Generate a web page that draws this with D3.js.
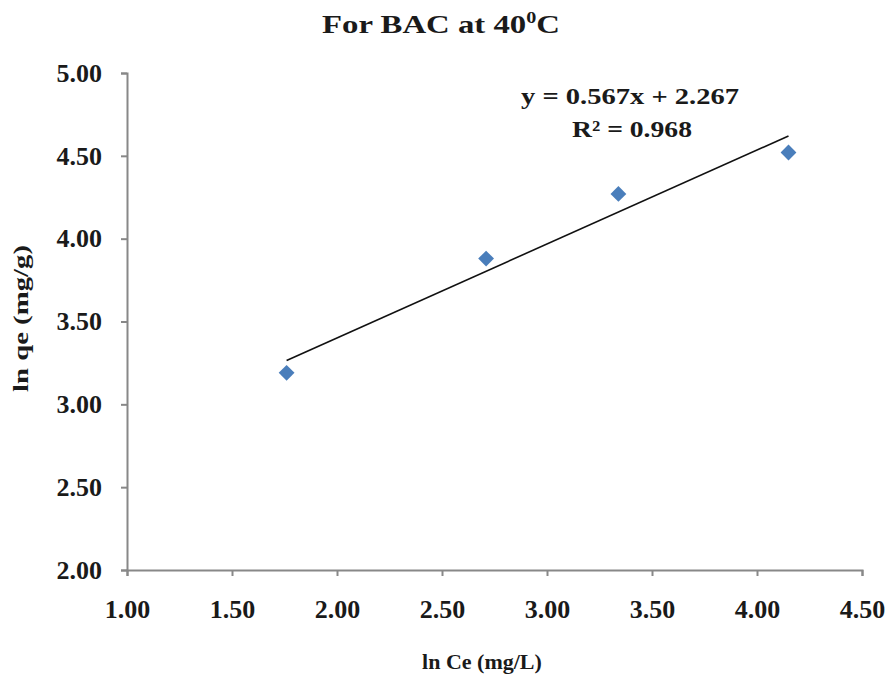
<!DOCTYPE html>
<meta charset="utf-8">
<html>
  <head>
    <title>For BAC at 40C</title>
    <style>
      body { margin: 0; background: #fff; }
      svg { display: block; }
      text { font-family: "Liberation Serif", "Times New Roman", serif; font-weight: bold; fill: #1a1a1a; }
      .axis path, .axis line { stroke: #888; stroke-width: 2px; }
      .axis text { font-size: 26px; }
      .trend { fill: none; stroke: #111; stroke-width: 1.6px; }
      .point { fill: #4a7ebb; }
    </style>
  </head>
  <body>
    <script src="https://cdn.jsdelivr.net/npm/d3@7"></script>
    <script>

      // ln Ce (x) and ln qe (y) points
      var lnCe = [1.76, 2.71, 3.34, 4.15];
      var lnQe = [3.19, 3.88, 4.27, 4.52];

      var xTicks = [1.00, 1.50, 2.00, 2.50, 3.00, 3.50, 4.00, 4.50];
      var yTicks = [2.00, 2.50, 3.00, 3.50, 4.00, 4.50, 5.00];

      // linear fit shown on the chart
      var slope = 0.567, intercept = 2.267;
      var eqLines = ["y = 0.567x + 2.267", "R\u00b2 = 0.968"];

      var width = 890, height = 680;
      var plotLeft = 127, plotRight = 862, plotTop = 73, plotBottom = 570;

      var x = d3.scaleLinear().domain([1, 4.5]).range([plotLeft, plotRight]);
      var y = d3.scaleLinear().domain([2, 5]).range([plotBottom, plotTop]);

      var svg = d3.select("body").append("svg")
          .attr("width", width)
          .attr("height", height);

      svg.append("g")
          .attr("class", "axis")
          .attr("transform", "translate(0," + plotBottom + ")")
          .call(d3.axisBottom(x).tickValues(xTicks).tickFormat(d3.format(".2f"))
            .tickSize(6).tickPadding(24));

      svg.append("g")
          .attr("class", "axis")
          .attr("transform", "translate(" + plotLeft + ",0)")
          .call(d3.axisLeft(y).tickValues(yTicks).tickFormat(d3.format(".2f"))
            .tickSize(6).tickPadding(19));

      svg.selectAll(".axis text").attr("fill", "#1a1a1a");

      // trend line across the data range
      var xr = d3.extent(lnCe);
      svg.append("path")
          .attr("class", "trend")
          .attr("d", d3.line()
            .x(function(d) { return x(d); })
            .y(function(d) { return y(slope * d + intercept); })(xr));

      svg.selectAll(".point")
          .data(lnCe)
        .enter().append("path")
          .attr("class", "point")
          .attr("d", d3.symbol().type(d3.symbolSquare).size(125))
          .attr("transform", function(d, i) {
            return "translate(" + x(d) + "," + y(lnQe[i]) + ") rotate(45)";
          });

      // equation label
      svg.append("text")
          .attr("x", 521).attr("y", 104)
          .attr("textLength", 218)
          .attr("lengthAdjust", "spacingAndGlyphs")
          .style("font-size", "23px")
          .text(eqLines[0]);
      svg.append("text")
          .attr("x", 572).attr("y", 137)
          .attr("textLength", 120)
          .attr("lengthAdjust", "spacingAndGlyphs")
          .style("font-size", "23px")
          .text(eqLines[1]);

      // title
      var title = svg.append("text")
          .attr("x", 322).attr("y", 33)
          .attr("textLength", 238)
          .attr("lengthAdjust", "spacingAndGlyphs")
          .style("font-size", "26px");
      title.append("tspan").text("For BAC at 40");
      title.append("tspan").attr("dy", -10).style("font-size", "16px").text("0");
      title.append("tspan").attr("dy", 10).text("C");

      svg.append("text")
          .attr("x", 482).attr("y", 669)
          .attr("text-anchor", "middle")
          .style("font-size", "22px")
          .text("ln Ce (mg/L)");

      svg.append("text")
          .attr("transform", "translate(28,392) rotate(-90)")
          .attr("textLength", 147)
          .attr("lengthAdjust", "spacingAndGlyphs")
          .style("font-size", "22px")
          .text("ln qe (mg/g)");

    </script>
  </body>
</html>
